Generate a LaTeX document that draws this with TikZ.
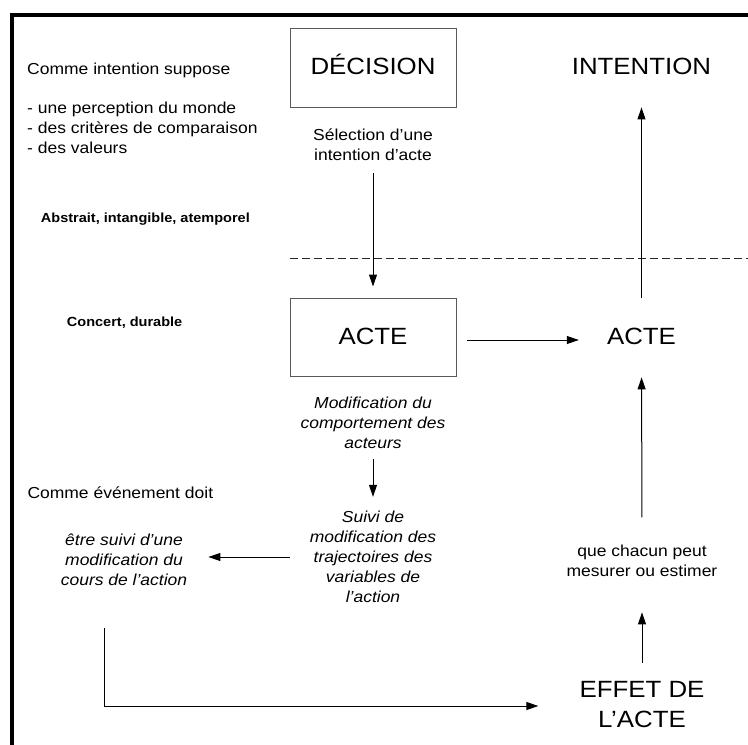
\documentclass[tikz,border=0pt]{standalone}
\usepackage{fontspec}
\setmainfont{Liberation Sans}[FakeStretch=1.1]
\usetikzlibrary{arrows.meta,calc}
\tikzset{
  small/.style={font={\fontsize{15.9}{20}\selectfont}, inner sep=0pt, text=black},
  big/.style={font={\fontsize{23.5}{30}\selectfont}, inner sep=0pt, text=black},
  bolds/.style={font={\fontsize{13.2}{16}\selectfont\bfseries}, inner sep=0pt, text=black},
  boxnode/.style={big, draw=black!65, line width=1pt, minimum width=166pt, text height=17pt, text depth=3pt},
  arr/.style={draw=black, line width=1pt, -{Triangle[length=12pt,width=8pt]}},
}
\begin{document}
\begin{tikzpicture}[x=1pt,y=-1pt]
\useasboundingbox (0,0) rectangle (748,745);
% frame
\draw[line width=4pt, line join=miter] (11.7,746) -- (11.7,15) -- (749,15);
% left texts
\node[small, anchor=base west] (cis) at (27,74) {Comme intention suppose};
\node[small, anchor=west, align=left] (list) at (27,129) {\strut- une perception du monde\\\strut- des critères de comparaison\\\strut- des valeurs};
\node[bolds, anchor=base west] (abs) at (40.7,222.7) {Abstrait, intangible, atemporel};
\node[bolds, anchor=base west] (conc) at (66.7,326.7) {Concert, durable};
\node[small, anchor=base west] (ced) at (27.3,498.7) {Comme événement doit};
% boxes
\node[boxnode, minimum height=79pt] (dec) at (373,67.5) {DÉCISION};
\node[boxnode, minimum height=78pt] (acte1) at (373,337) {ACTE};
% right column
\node[big, anchor=base] (int) at (641.5,74) {INTENTION};
\node[big, anchor=base] (acte2) at (641.5,344.3) {ACTE};
\node[big, align=center] (effet) at (642,706) {\strut EFFET DE\\\strut L’ACTE};
\node[small, align=center] (que) at (642,562.2) {\strut que chacun peut\\\strut mesurer ou estimer};
% middle texts
\node[small, align=center] (sel) at (373,146) {\strut Sélection d’une\\\strut intention d’acte};
\node[small, align=center, font={\fontsize{15.9}{20}\selectfont\itshape}] (mod) at (373,424.7) {\strut Modification du\\\strut comportement des\\\strut acteurs};
\node[small, align=center, font={\fontsize{15.9}{20}\selectfont\itshape}] (suivi) at (373,558) {\strut Suivi de\\\strut modification des\\\strut trajectoires des\\\strut variables de\\\strut l’action};
\node[small, align=center, font={\fontsize{15.9}{20}\selectfont\itshape}] (etre) at (124,561.3) {\strut être suivi d’une\\\strut modification du\\\strut cours de l’action};
% dashed separator
\coordinate (dl) at (290,258);
\coordinate (dr) at (749,258);
\draw[black!85, line width=1pt, dash pattern=on 8pt off 4pt] (dl) -- (dr);
% helper coordinates
\coordinate (a1s) at ($(acte1.east)+(10,3)$);
\coordinate (sws) at ($(suivi.west)+(-20,-1)$);
\coordinate (ebs) at ($(etre.south)+(-19.7,36)$);
% connectors
\draw[arr, shorten <=6.7pt, shorten >=11pt] (sel.south) -- (acte1.north);
\draw[arr, shorten >=28pt] (a1s) -- (a1s -| acte2.west);
\draw[arr, shorten <=29.5pt, shorten >=33pt] (acte2.north) -- (int.south);
\draw[arr, shorten <=4pt, shorten >=11pt] (mod.south) -- (suivi.north);
\draw[arr, shorten >=21pt] (sws) -- (sws -| etre.east);
\draw[arr, shorten >=41pt] (ebs) |- (effet.west);
\draw[arr, shorten <=13pt, shorten >=30pt] (effet.north) -- (que.south);
\draw[arr, shorten <=24.6pt, shorten >=32.7pt] (que.north) -- (acte2.south);
\end{tikzpicture}
\end{document}
